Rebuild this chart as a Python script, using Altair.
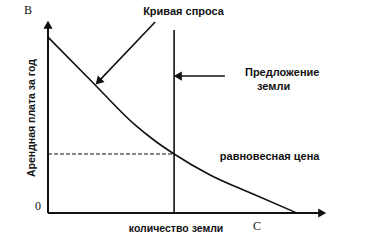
import altair as alt
import pandas as pd

# Demand curve (quantity of land vs. annual rent)
demand_q = [0, 15.6, 31.2, 38.4, 45.2, 58.1, 73.5, 89.2]
demand_rent = [92.1, 69.0, 46.1, 37.7, 30.9, 19.9, 9.9, 0]

# Fixed supply of land and equilibrium rent
supply_q = 45.2
supply_top = 95.8
eq_rent = 30.9

# Axis extents
x_axis_end = 97.8
y_axis_end = 97.9

# Text labels
sans_labels = ["Кривая спроса", "Предложение", "земли", "равновесная цена"]
sans_x = [34.1, 70.6, 74.9, 61.6]
sans_y = [105.2, 73.3, 66.0, 29.3]

center_labels = ["количество земли"]
center_x = [45.9]
center_y = [-8.4]

serif_labels = ["В", "0", "C"]
serif_x = [-7.2, -3.6, 74.9]
serif_y = [106.3, 3.7, -6.8]

y_title = "Арендная плата за год"
y_title_x = -5.7
y_title_y = 49.7

# Annotation arrows: start -> arrowhead
arrow_x = [38.4, 63.4]
arrow_y = [100.0, 71.7]
arrow_x2 = [18.4, 47.0]
arrow_y2 = [69.3, 71.7]

# Arrowheads (axes + annotations)
head_x = [x_axis_end, 0, 18.4, 47.0]
head_y = [0, y_axis_end, 69.3, 71.7]
head_angle = [90, 0, 224, 270]

INK = "#111111"
xs = alt.Scale(domain=[0, 100], nice=False, zero=False)
ys = alt.Scale(domain=[0, 100], nice=False, zero=False)

def X(f="x"):
    return alt.X(f"{f}:Q", scale=xs, axis=None)

def Y(f="y"):
    return alt.Y(f"{f}:Q", scale=ys, axis=None)

axes_df = pd.DataFrame({"x": [0, 0], "y": [0, 0], "x2": [x_axis_end, 0], "y2": [0, y_axis_end]})
axes = alt.Chart(axes_df).mark_rule(color=INK, strokeWidth=2).encode(
    x=X(), y=Y(), x2="x2:Q", y2="y2:Q")

heads_df = pd.DataFrame({"x": head_x, "y": head_y, "angle": head_angle})
heads = alt.Chart(heads_df).mark_point(shape="triangle", filled=True, size=85, color=INK, opacity=1).encode(
    x=X(), y=Y(), angle=alt.Angle("angle:Q", scale=None))

demand_df = pd.DataFrame({"x": demand_q, "y": demand_rent})
demand = alt.Chart(demand_df).mark_line(color=INK, strokeWidth=1.6, interpolate="monotone").encode(
    x=X(), y=Y())

supply_df = pd.DataFrame({"x": [supply_q], "y": [0], "y2": [supply_top]})
supply = alt.Chart(supply_df).mark_rule(color=INK, strokeWidth=1.6).encode(
    x=X(), y=Y(), y2="y2:Q")

eq_df = pd.DataFrame({"x": [0], "x2": [supply_q], "y": [eq_rent]})
eq = alt.Chart(eq_df).mark_rule(color=INK, strokeWidth=1.2, strokeDash=[4, 2]).encode(
    x=X(), x2="x2:Q", y=Y())

arrows_df = pd.DataFrame({"x": arrow_x, "y": arrow_y, "x2": arrow_x2, "y2": arrow_y2})
arrows = alt.Chart(arrows_df).mark_rule(color=INK, strokeWidth=1.6).encode(
    x=X(), y=Y(), x2="x2:Q", y2="y2:Q")

sans_df = pd.DataFrame({"t": sans_labels, "x": sans_x, "y": sans_y})
sans = alt.Chart(sans_df).mark_text(
    align="left", baseline="middle", font="Liberation Sans", fontSize=11, fontWeight=600, color=INK
).encode(x=X(), y=Y(), text="t:N")

center_df = pd.DataFrame({"t": center_labels, "x": center_x, "y": center_y})
center = alt.Chart(center_df).mark_text(
    align="center", baseline="middle", font="Liberation Sans", fontSize=10.5, fontWeight=600, color=INK
).encode(x=X(), y=Y(), text="t:N")

serif_df = pd.DataFrame({"t": serif_labels, "x": serif_x, "y": serif_y})
serif = alt.Chart(serif_df).mark_text(
    align="center", baseline="middle", font="Liberation Serif", fontSize=12, color=INK
).encode(x=X(), y=Y(), text="t:N")

yt_df = pd.DataFrame({"t": [y_title], "x": [y_title_x], "y": [y_title_y]})
ytitle = alt.Chart(yt_df).mark_text(
    align="center", baseline="middle", angle=270, font="Liberation Sans", fontSize=10.5, fontWeight=600, color=INK
).encode(x=X(), y=Y(), text="t:N")

chart = alt.layer(axes, demand, supply, eq, arrows, heads, sans, center, serif, ytitle).properties(
    width=279, height=191,
    autosize=alt.AutoSizeParams(type="none"),
    padding={"left": 48, "top": 22, "right": 47, "bottom": 27},
    background="white",
).configure_view(stroke=None)

chart.save("out.html", embed_options={"renderer": "svg", "actions": False})
